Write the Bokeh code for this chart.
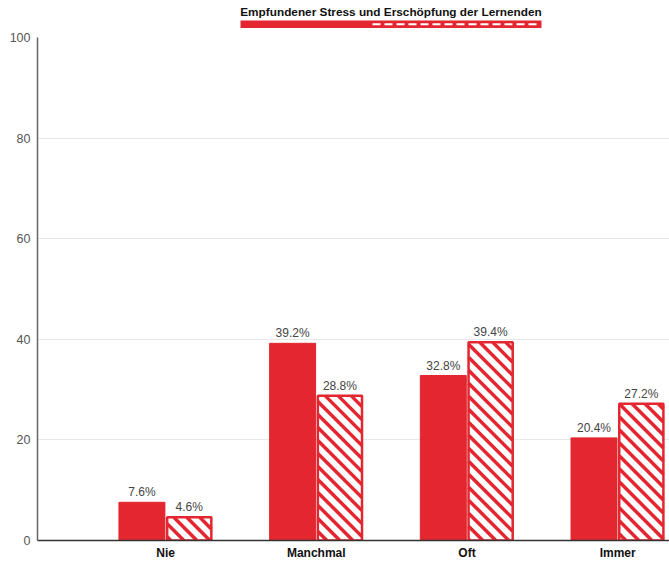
import numpy as np
from bokeh.plotting import figure
from bokeh.layouts import column
from bokeh.models import Range1d, FixedTicker, ColumnDataSource
from bokeh.core.properties import value
from bokeh.embed import file_html
from bokeh.resources import INLINE

# ---- data ----
categories = ["Nie", "Manchmal", "Oft", "Immer"]
series_a = [7.6, 39.2, 32.8, 20.4]      # solid
series_b = [4.6, 28.8, 39.4, 27.2]      # hatched
y_ticks = [0, 20, 40, 60, 80, 100]
legend_title = "Empfundener Stress und Erschöpfung der Lernenden"

RED = "#e3262f"
FONT = "Liberation Sans"
W = 669
LEFT = 37
FW = W - LEFT

# ---- legend strip (top) ----
LH = 30
lg = figure(width=W, height=LH, output_backend="svg", toolbar_location=None,
            x_range=Range1d(0, FW), y_range=Range1d(LH, 0),
            min_border=0, min_border_left=LEFT, min_border_right=0,
            outline_line_color=None)
lg.axis.visible = False
lg.grid.visible = False
lg.text(x=[353.5], y=[11], text=[legend_title], text_font=value(FONT),
        text_font_style="bold", text_font_size="11.8px", text_color="#111111",
        text_align="center", text_baseline="middle")
lg.quad(left=[203], right=[504], bottom=[27.5], top=[20], fill_color=RED, line_color=None)
lg.segment(x0=[335], x1=[501], y0=[23.8], y1=[23.8], line_color="white",
           line_width=2, line_dash="8 4")

# ---- main chart ----
MAIN_H = 533
TOP_B, BOT_B = 7, 23
X0, X1 = 0.15, 4.344
xs = np.arange(1, len(categories) + 1)
off = 0.157
bw = 0.305
src_a = ColumnDataSource(dict(x=xs - off, top=series_a,
                              lab=[f"{v:.1f}%" for v in series_a]))
src_b = ColumnDataSource(dict(x=xs + off, top=series_b,
                              lab=[f"{v:.1f}%" for v in series_b]))

p = figure(width=W, height=MAIN_H, output_backend="svg", toolbar_location=None,
           x_range=Range1d(X0, X1), y_range=Range1d(0, 100),
           min_border_left=LEFT, min_border_right=0, min_border_top=TOP_B,
           min_border_bottom=BOT_B, outline_line_color=None)

p.vbar(x="x", top="top", bottom=0, width=bw, source=src_a,
       fill_color=RED, line_color=RED, line_width=1)
bw_b = bw - 0.012
p.vbar(x="x", top="top", bottom=0, width=bw_b, source=src_b,
       fill_color="white", line_color=None)

# 45-degree "\" hatch lines inside the hatched bars (computed from the bar data)
sx = FW / (X1 - X0)                       # px per x unit
sy = (MAIN_H - TOP_B - BOT_B) / 100.0     # px per y unit
period = 13.0
hx0, hy0, hx1, hy1 = [], [], [], []
for xc, top in zip(xs + off, series_b):
    L, R = (xc - bw_b / 2) * sx, (xc + bw_b / 2) * sx
    T = top * sy
    k0 = int(np.floor(L / period)) - 1
    k1 = int(np.ceil((R + T) / period)) + 1
    for k in range(k0, k1 + 1):
        c = k * period                    # line: X + Y = c  (screen "\" )
        xs_ = max(L, c - T)
        xe_ = min(R, c)
        if xe_ - xs_ > 0.5:
            hx0.append(xs_ / sx); hy0.append((c - xs_) / sy)
            hx1.append(xe_ / sx); hy1.append((c - xe_) / sy)
p.segment(x0=hx0, y0=hy0, x1=hx1, y1=hy1, line_color=RED, line_width=3.5)

p.vbar(x="x", top="top", bottom=0, width=bw_b, source=src_b,
       fill_color=None, line_color=RED, line_width=2.5)

for s in (src_a, src_b):
    p.text(x="x", y="top", text="lab", source=s, text_font=value(FONT),
           text_font_size="12px", text_color="#444444",
           text_align="center", text_baseline="bottom", y_offset=-3)

p.xgrid.visible = False
p.ygrid.grid_line_color = "#e8e8e8"
p.ygrid.ticker = FixedTicker(ticks=y_ticks)
p.ygrid.level = "underlay"

p.yaxis.ticker = FixedTicker(ticks=y_ticks)
p.yaxis.axis_line_color = "#666666"
p.yaxis.axis_line_width = 1.5
p.yaxis.major_tick_line_color = None
p.yaxis.minor_tick_line_color = None
p.yaxis.major_tick_out = 0
p.yaxis.major_label_text_font = FONT
p.yaxis.major_label_text_font_size = "12.5px"
p.yaxis.major_label_text_color = "#555555"
p.yaxis.major_label_standoff = 7

p.xaxis.ticker = FixedTicker(ticks=list(xs))
p.xaxis.major_label_overrides = {int(i): c for i, c in zip(xs, categories)}
p.xaxis.axis_line_color = "#333333"
p.xaxis.axis_line_width = 1.5
p.xaxis.major_tick_line_color = None
p.xaxis.minor_tick_line_color = None
p.xaxis.major_tick_out = 0
p.xaxis.major_label_standoff = 5
p.xaxis.major_label_text_font = FONT
p.xaxis.major_label_text_font_style = "bold"
p.xaxis.major_label_text_font_size = "12px"
p.xaxis.major_label_text_color = "#111111"

layout = column(lg, p, spacing=0)
open("out.html", "w").write(file_html(layout, INLINE))
